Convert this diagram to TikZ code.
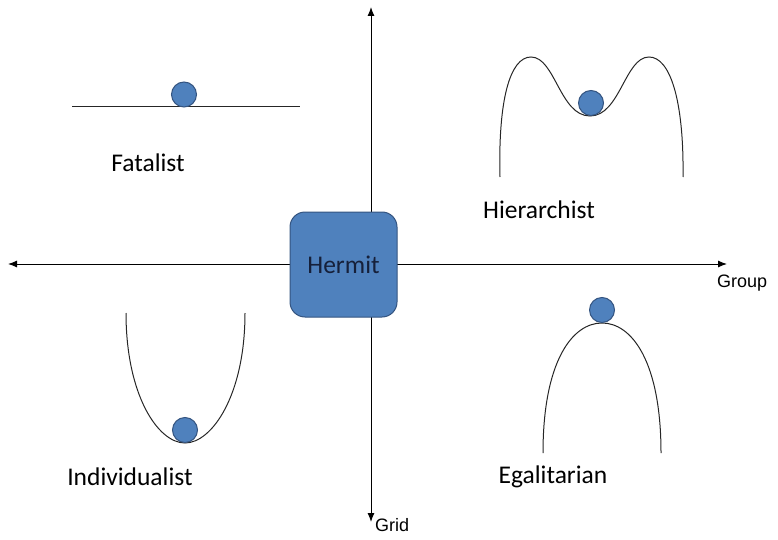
\documentclass[tikz,border=0pt]{standalone}
\usepackage{fontspec}
\setmainfont{Carlito}
\newfontfamily\axisfont{Liberation Sans}
\usetikzlibrary{arrows.meta,positioning}
\definecolor{ballblue}{RGB}{79,129,189}
\definecolor{balledge}{RGB}{52,84,128}
\definecolor{hermittext}{RGB}{22,32,58}

\begin{document}
\begin{tikzpicture}[x=1pt,y=-1pt,>={Latex[length=9pt,width=7pt]},
  axis/.style={line width=1pt,->},
  curve/.style={line width=1pt,black!85},
  ball/.style={circle,draw=balledge,fill=ballblue,line width=1pt,
               minimum size=25pt,inner sep=0pt},
  label/.style={font=\fontsize{25.5}{30}\selectfont},
  axlabel/.style={font=\axisfont\fontsize{18}{22}\selectfont}]
\useasboundingbox (0,0) rectangle (778,540);
% axes
\coordinate (origin) at (371,264);
\coordinate (west) at (8,264);
\coordinate (east) at (727,264);
\coordinate (north) at (371,7);
\coordinate (south) at (371,522);
\draw[axis] (origin) -- (west);
\draw[axis] (origin) -- (east);
\draw[axis] (origin) -- (north);
\draw[axis] (origin) -- (south);
\node[axlabel,anchor=north west,inner sep=0pt] (group) at (717,275) {Group};
\node[axlabel,anchor=north west,inner sep=0pt] (grid) at (375,518) {Grid};
% hermit in the middle
\node[draw=balledge,fill=ballblue,line width=1pt,rounded corners=15pt,
      minimum width=107pt,minimum height=105pt,label,text=hermittext]
  (hermit) at (343.5,264.5) {Hermit};
% fatalist: flat
\draw[curve] (72,107) -- (300,107);
\node[ball] (fball) at (184,94.5) {};
\node[label] (fatalist) at (148,163) {Fatalist};
% hierarchist: double hump
\draw[curve] (500,177) .. controls (498,100) and (510,57) .. (531,57)
  .. controls (555,57) and (560,116) .. (590,116)
  .. controls (620,116) and (625,57) .. (649,57)
  .. controls (670,57) and (684,100) .. (683,177);
\node[ball] (hball) at (591,103) {};
\node[label] (hierarchist) at (539,210) {Hierarchist};
% individualist: valley
\draw[curve] (126,313) .. controls (126,395) and (158,443) .. (185,443)
  .. controls (212,443) and (245,395) .. (245,313);
\node[ball] (iball) at (185,430) {};
\node[label] (individualist) at (130,477) {Individualist};
% egalitarian: hill top
\draw[curve] (543,453) .. controls (543,362) and (572,323) .. (602,323)
  .. controls (632,323) and (661,362) .. (661,453);
\node[ball] (eball) at (602,310) {};
\node[label] (egalitarian) at (553,477) {Egalitarian};
\end{tikzpicture}
\end{document}
